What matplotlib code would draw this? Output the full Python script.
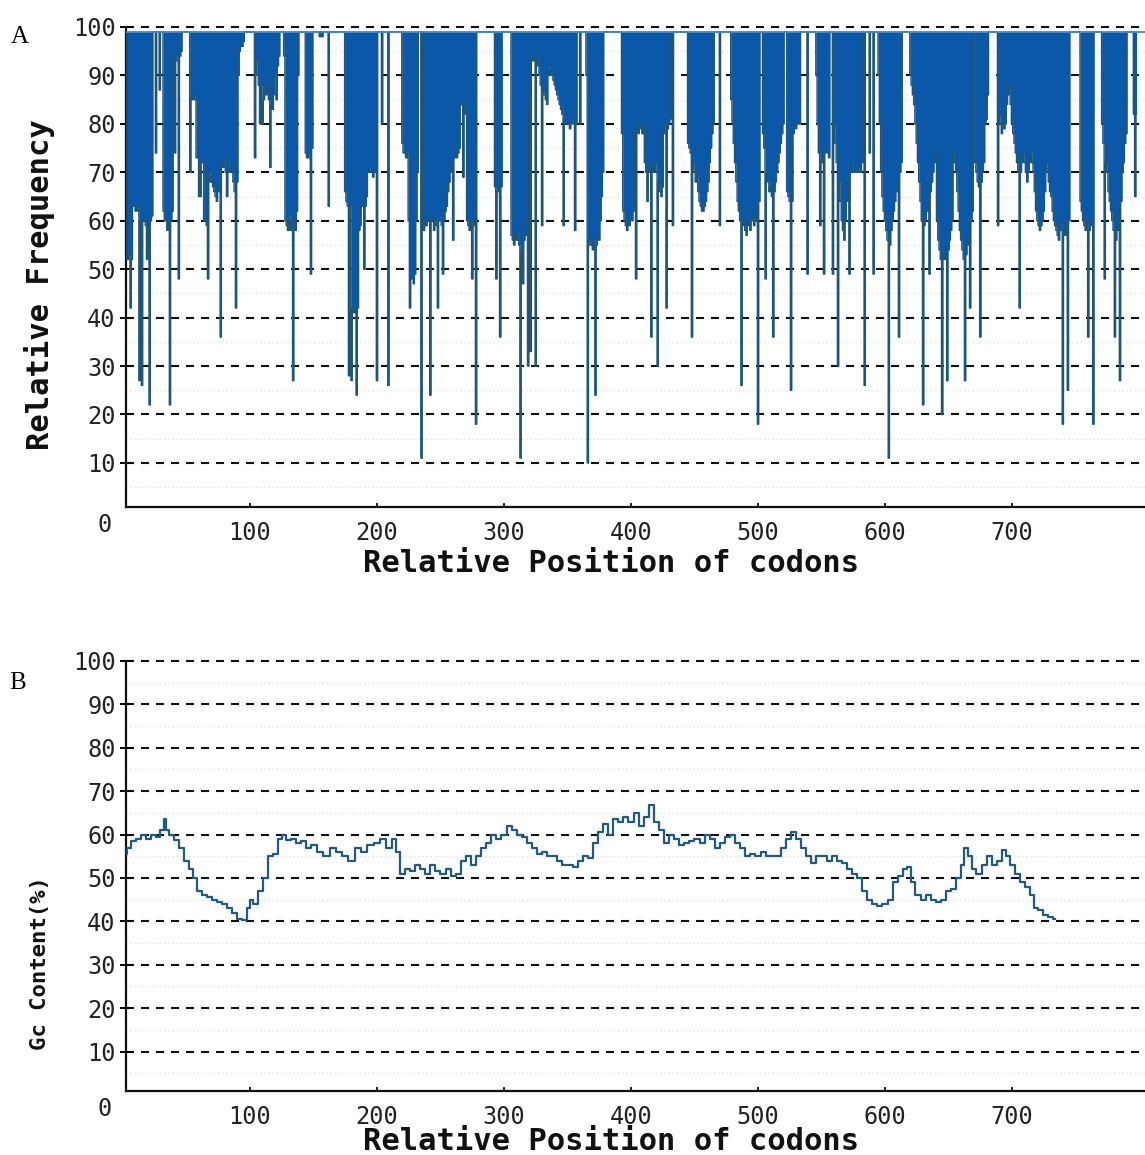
import matplotlib.pyplot as plt
import numpy as np
from matplotlib.transforms import offset_copy

plt.rcParams['font.family'] = 'DejaVu Sans Mono'
plt.rcParams['lines.scale_dashes'] = False

# relative frequency of the codon at each position (position 1 first)
codon_freq = [
    100, 100, 52, 52, 53, 42, 52, 63, 63, 62, 63, 62, 27, 60, 26, 60, 60, 59, 52, 60,
    22, 60, 61, 100, 100, 74, 100, 100, 87, 100, 100, 62, 60, 60, 58, 60, 22, 60, 62, 94,
    74, 94, 93, 48, 94, 95, 100, 100, 100, 100, 100, 100, 70, 85, 85, 86, 85, 73, 73, 65,
    65, 72, 72, 60, 60, 59, 48, 70, 68, 69, 67, 66, 65, 64, 66, 67, 36, 72, 71, 73,
    70, 65, 72, 70, 71, 70, 68, 66, 42, 68, 90, 95, 96, 96, 97, 100, 100, 100, 100, 100,
    100, 100, 100, 73, 93, 90, 88, 80, 88, 80, 85, 87, 86, 88, 85, 71, 84, 83, 90, 86,
    85, 92, 94, 100, 100, 100, 94, 60, 59, 58, 61, 58, 60, 27, 59, 58, 62, 90, 100, 100,
    100, 100, 100, 74, 73, 74, 73, 49, 75, 100, 100, 100, 100, 100, 98, 100, 98, 100, 100, 100,
    100, 63, 100, 100, 100, 100, 100, 100, 100, 100, 100, 100, 100, 100, 66, 64, 63, 28, 63, 27,
    42, 41, 42, 24, 42, 58, 59, 63, 63, 50, 63, 65, 70, 71, 70, 70, 69, 70, 70, 27,
    100, 100, 100, 80, 100, 100, 100, 100, 26, 100, 100, 100, 100, 100, 100, 100, 100, 100, 100, 76,
    74, 74, 73, 74, 60, 42, 48, 48, 47, 49, 60, 70, 100, 100, 11, 100, 58, 60, 59, 60,
    60, 24, 60, 61, 58, 60, 59, 42, 60, 61, 59, 49, 60, 62, 63, 66, 68, 70, 72, 56,
    73, 74, 73, 74, 75, 84, 84, 69, 84, 82, 60, 59, 58, 60, 48, 59, 60, 18, 100, 100,
    100, 100, 100, 100, 100, 100, 100, 100, 100, 100, 100, 100, 67, 48, 66, 67, 36, 67, 100, 100,
    100, 100, 100, 100, 100, 57, 56, 55, 57, 56, 58, 55, 11, 54, 47, 56, 57, 60, 30, 85,
    33, 94, 93, 94, 30, 94, 92, 90, 88, 59, 87, 86, 85, 84, 92, 90, 91, 90, 89, 88,
    87, 86, 85, 84, 83, 82, 59, 81, 80, 80, 80, 79, 80, 81, 80, 58, 80, 100, 100, 80,
    100, 100, 100, 100, 90, 10, 56, 55, 55, 54, 56, 24, 55, 57, 56, 60, 65, 70, 100, 100,
    100, 100, 100, 100, 100, 100, 100, 100, 100, 100, 100, 100, 78, 62, 60, 59, 58, 60, 59, 61,
    60, 62, 78, 48, 79, 78, 80, 79, 78, 80, 72, 70, 64, 71, 70, 36, 72, 70, 72, 70,
    30, 68, 66, 65, 67, 80, 78, 42, 79, 80, 81, 100, 59, 100, 100, 100, 100, 100, 100, 100,
    100, 100, 100, 100, 76, 75, 74, 36, 72, 70, 68, 70, 66, 64, 63, 62, 62, 63, 64, 66,
    68, 72, 75, 78, 80, 100, 100, 100, 100, 59, 100, 100, 100, 100, 100, 100, 100, 100, 85, 80,
    76, 72, 68, 64, 62, 60, 26, 60, 59, 58, 57, 60, 59, 58, 60, 61, 59, 60, 62, 18,
    64, 100, 100, 78, 75, 48, 70, 68, 66, 67, 65, 36, 66, 68, 70, 72, 74, 76, 78, 80,
    100, 100, 66, 65, 64, 25, 64, 78, 80, 79, 80, 80, 80, 100, 100, 100, 100, 100, 49, 100,
    100, 100, 100, 100, 100, 90, 80, 74, 59, 72, 73, 49, 74, 75, 74, 73, 100, 100, 49, 80,
    76, 72, 30, 68, 64, 60, 58, 56, 60, 64, 68, 49, 70, 72, 70, 70, 70, 70, 71, 70,
    70, 72, 100, 26, 100, 100, 100, 74, 100, 100, 49, 100, 100, 100, 90, 80, 70, 65, 62, 60,
    58, 56, 11, 55, 58, 60, 62, 64, 66, 68, 36, 70, 72, 100, 100, 100, 100, 100, 100, 90,
    88, 86, 84, 80, 76, 72, 68, 64, 60, 22, 59, 60, 62, 64, 49, 66, 68, 70, 72, 74,
    60, 56, 54, 52, 20, 52, 53, 52, 27, 54, 56, 58, 60, 74, 72, 70, 66, 62, 58, 56,
    54, 52, 27, 53, 55, 57, 42, 60, 62, 100, 72, 70, 68, 67, 36, 68, 70, 72, 80, 81,
    86, 100, 100, 100, 100, 100, 100, 100, 59, 82, 80, 78, 80, 79, 80, 84, 86, 88, 84, 80,
    78, 76, 74, 72, 70, 42, 70, 72, 74, 72, 70, 68, 70, 72, 74, 72, 70, 66, 62, 60,
    59, 58, 59, 60, 62, 66, 72, 70, 68, 66, 65, 62, 60, 59, 58, 57, 56, 58, 60, 18,
    58, 57, 59, 25, 60, 100, 100, 100, 100, 100, 100, 100, 100, 64, 62, 60, 59, 58, 60, 36,
    58, 59, 60, 18, 100, 100, 100, 100, 100, 100, 80, 76, 48, 72, 70, 66, 64, 62, 60, 58,
    36, 56, 58, 62, 27, 64, 70, 72, 76, 78, 100, 100, 100, 100, 100, 82, 65, 82,
]
codon_pos = np.arange(1, len(codon_freq) + 1)

# GC content (%) along the sequence
gc_pos = [
    2, 5, 8, 12, 16, 20, 24, 28, 31, 33, 35, 38, 42, 46, 50, 54, 57, 60, 64, 68,
    72, 76, 80, 84, 88, 92, 96, 99, 101, 104, 108, 112, 116, 120, 124, 127, 130, 134, 138, 142,
    146, 150, 155, 160, 166, 170, 175, 180, 185, 190, 195, 200, 205, 210, 213, 217, 220, 224, 228, 232,
    236, 240, 244, 248, 252, 256, 260, 264, 268, 272, 276, 280, 284, 288, 292, 296, 300, 304, 308, 312,
    316, 320, 324, 328, 332, 336, 340, 344, 348, 352, 356, 360, 364, 368, 372, 376, 380, 384, 388, 392,
    396, 400, 404, 408, 412, 416, 420, 424, 428, 432, 436, 440, 444, 448, 452, 456, 460, 464, 468, 472,
    476, 480, 484, 488, 492, 496, 500, 504, 508, 512, 516, 520, 524, 528, 532, 536, 540, 544, 548, 552,
    556, 560, 564, 568, 572, 576, 580, 584, 588, 592, 596, 600, 604, 608, 612, 616, 619, 622, 626, 630,
    634, 638, 642, 646, 650, 654, 658, 661, 664, 667, 670, 674, 678, 682, 686, 690, 694, 697, 700, 704,
    708, 712, 716, 719, 722, 726, 730, 734,
]
gc_val = [
    55.6, 57, 58.5, 59, 60, 59, 60, 59.5, 61, 63.5, 61, 60, 58.7, 57, 54, 52, 50, 47, 46, 45.5,
    45, 44.5, 44, 43, 42, 40.5, 40.3, 43, 45, 44, 47, 50, 55, 55.5, 59, 60, 58.7, 59, 58, 58.5,
    57, 57.5, 56, 55, 57, 56, 55, 54, 57, 56, 57.5, 58, 59, 57, 59, 56, 51, 52, 51.5, 53,
    52, 51, 53, 51.5, 51, 52, 50.5, 51, 54, 55, 53, 55, 57, 58, 60, 59, 60, 62, 61, 60,
    59.5, 58, 57, 55.5, 56, 55, 55, 54, 53, 53, 52.5, 54, 55, 54.5, 58, 60.5, 62.5, 60, 63.5, 63,
    64, 63, 64.9, 62, 64, 66.8, 63, 61, 58, 60, 59, 57.5, 58, 58.5, 59, 58, 60, 59, 57, 58,
    59.5, 60, 58, 57, 55, 55.5, 55, 56, 55, 55, 55, 57, 59, 60.5, 59, 57, 55, 53.5, 55, 55,
    54, 55, 54, 53.5, 52, 51, 50, 47, 45, 44, 43.5, 44, 45, 49, 50.5, 52, 52.5, 49, 46, 45,
    46, 45, 44.5, 45, 47, 47.5, 50, 53, 57, 55, 52, 51, 53, 55, 53, 54, 56.5, 55, 53, 51,
    49, 48, 46, 43, 42.5, 41.5, 41, 40.5,
]

y_ticks = list(range(10, 101, 10))
x_ticks = [100, 200, 300, 400, 500, 600, 700]

FILL = '#0b58a8'
EDGE = '#1f5675'
LINE = '#215a80'
TOP = 99

fig = plt.figure(figsize=(11.45, 11.55), dpi=100)
ax_a = fig.add_axes([126 / 1145, 1 - 507 / 1155, 1019 / 1145, 480 / 1155])
ax_b = fig.add_axes([126 / 1145, 1 - 1091 / 1155, 1019 / 1145, 430 / 1155])


def style_axes(ax):
    ax.set_xlim(2.4, 804.7)
    ax.set_ylim(0.9, 100)
    for side in ('top', 'right'):
        ax.spines[side].set_visible(False)
    for side in ('left', 'bottom'):
        ax.spines[side].set_linewidth(1.6)
        ax.spines[side].set_color('#111111')
    ax.set_yticks(y_ticks)
    ax.set_xticks(x_ticks)
    ax.tick_params(axis='y', direction='inout', length=9, width=1.4, pad=3,
                   labelsize=17, labelcolor='#222222')
    ax.tick_params(axis='x', direction='in', length=3, width=1.2, pad=10,
                   labelsize=17, labelcolor='#222222')
    # faint dotted lines halfway between the dashed ones
    for v in range(5, 100, 10):
        ax.axhline(v, color='#e2e2e2', lw=1.0, ls=(0, (1, 2)), zorder=0)
    for v in y_ticks:
        ax.axhline(v, color='#111111', lw=1.5, dashes=(5.8, 5.0),
                   clip_on=False, zorder=1)
    ax.text(0, 0, '0', fontsize=17, color='#222222', ha='center', va='center',
            transform=offset_copy(ax.transAxes, fig=fig, x=-21, y=-18, units='dots'))


# A: codon frequency, bars hang from the top down to each value
style_axes(ax_a)
freq = np.minimum(np.array(codon_freq, dtype=float), TOP)
ax_a.fill_between(codon_pos, freq, TOP, step='mid', color=FILL, lw=0, zorder=2)
ax_a.step(codon_pos, freq, where='mid', color=EDGE, lw=1.0, zorder=3)
ax_a.axhline(TOP, color='#3a8ad0', lw=1.3, zorder=4)

# B: GC content
style_axes(ax_b)
ax_b.plot(gc_pos, gc_val, drawstyle='steps-mid', color=LINE, lw=1.6, zorder=3)

label_kw = dict(fontweight='bold', color='#111111', ha='center', va='center')
fig.text(611 / 1145, 1 - 563 / 1155, 'Relative Position of codons', fontsize=22, **label_kw)
fig.text(611 / 1145, 1 - 1141 / 1155, 'Relative Position of codons', fontsize=22, **label_kw)
fig.text(40 / 1145, 1 - 285 / 1155, 'Relative Frequency', rotation=90, fontsize=22, **label_kw)
fig.text(40 / 1145, 1 - 963 / 1155, 'Gc Content(%)', rotation=90, fontsize=16, **label_kw)

fig.text(20 / 1145, 1 - 37 / 1155, 'A', family='Liberation Serif', fontsize=18,
         ha='center', va='center')
fig.text(18 / 1145, 1 - 683 / 1155, 'B', family='Liberation Serif', fontsize=18,
         ha='center', va='center')

fig.savefig('out.png', dpi=100)
